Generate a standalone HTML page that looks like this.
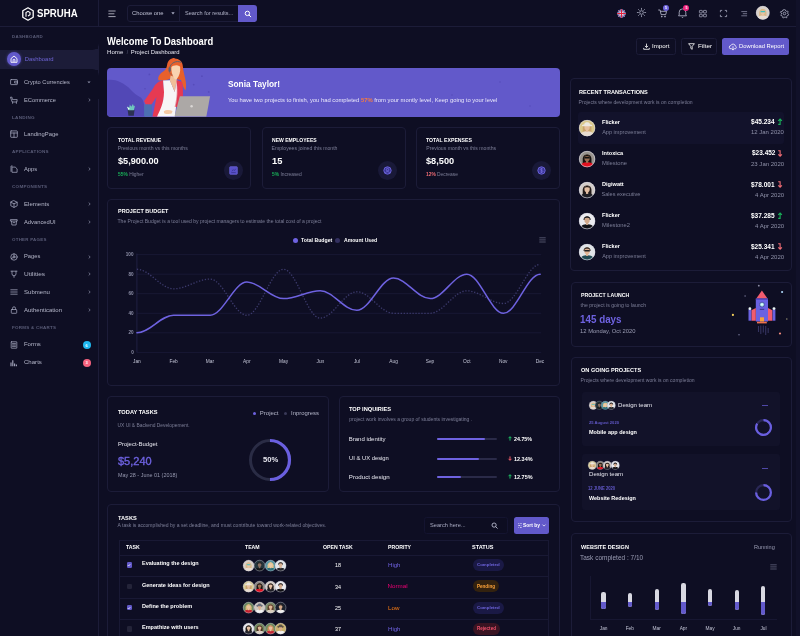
<!DOCTYPE html><html><head><meta charset="utf-8"><title>Spruha Dashboard</title><style>
*{margin:0;padding:0;box-sizing:border-box}
html,body{width:800px;height:636px;overflow:hidden;background:#0e0e23}
body{position:relative;font-family:"Liberation Sans",sans-serif;color:#f4f4f8}
#app{position:absolute;left:0;top:0;width:800px;height:636px;overflow:hidden;will-change:transform}
.a{position:absolute}
.t{position:absolute;white-space:nowrap;line-height:1}
svg{position:absolute;overflow:visible}


</style></head><body><div id="app">
<div class="a" style="left:0px;top:0px;width:99px;height:636px;background:#0e0e23;border-right:1px solid #1c1c38;"></div>
<div class="a" style="left:0px;top:49px;width:99px;height:21px;background:#1c1c38;"></div>
<div class="a" style="left:0px;top:26px;width:99px;height:24px;background:#0e0e23;border-radius:0 0 7px 0;"></div>
<div class="a" style="left:0px;top:68.5px;width:99px;height:30px;background:#0e0e23;border-radius:0 7px 0 0;"></div>
<div class="a" style="left:0px;top:26px;width:800px;height:1px;background:#1c1c38;"></div>
<div class="a" style="left:98px;top:0px;width:1px;height:27px;background:#1c1c38;"></div>
<svg style="left:21.5px;top:6.5px" width="12" height="14" viewBox="0 0 12 14" ><path d="M6 .8 11.2 3.8v6.4L6 13.2.8 10.2V3.8z" fill="none" stroke="#fff" stroke-width="1.3" stroke-linejoin="round"/><path d="M4 9.8V5.6l2-1.2 2 1.2v2.2L6 9" fill="none" stroke="#fff" stroke-width="1.1"/></svg>
<div class="a" style="left:6.5px;top:52.2px;width:14px;height:14px;background:#6259ca;border-radius:7px;box-shadow:0 0 3px rgba(98,89,202,.6);"></div>
<svg style="left:9.5px;top:55px" width="8" height="8" viewBox="0 0 8 8" ><path d="M1 3.6 4 1l3 2.6V7.3H1z" fill="none" stroke="#fff" stroke-width=".9" stroke-linejoin="round"/><path d="M3.1 7.2V4.6h1.8v2.6" fill="none" stroke="#fff" stroke-width=".8"/></svg>
<svg style="left:10px;top:78px" width="8" height="8" viewBox="0 0 8 8" ><rect x=".6" y="1.6" width="6.8" height="5" rx=".6" fill="none" stroke="#a6a8bf" stroke-width=".75" stroke-linejoin="round" stroke-linecap="round"/><rect x="5" y="3.2" width="2.4" height="1.8" fill="none" stroke="#a6a8bf" stroke-width=".75" stroke-linejoin="round" stroke-linecap="round"/></svg>
<svg style="left:87px;top:81.4px" width="4" height="3" viewBox="0 0 4 3" ><path d="M.4.4h3.2L2 2.2z" fill="#8d8fa8"/></svg>
<svg style="left:10px;top:95.6px" width="8" height="8" viewBox="0 0 8 8" ><path d="M.8 1.2h1.2l.4 2.4h4.8L6.8 6H2.6z" fill="none" stroke="#a6a8bf" stroke-width=".75" stroke-linejoin="round" stroke-linecap="round"/><path d="M2.6 6v1.4M6.4 6v1.4" fill="none" stroke="#a6a8bf" stroke-width=".75" stroke-linejoin="round" stroke-linecap="round"/></svg>
<svg style="left:87.6px;top:97.6px" width="3" height="4" viewBox="0 0 3 4" ><path d="M.7.6 2.2 2 .7 3.4" fill="none" stroke="#8d8fa8" stroke-width=".7"/></svg>
<svg style="left:10px;top:130.4px" width="8" height="8" viewBox="0 0 8 8" ><rect x=".7" y=".9" width="6.6" height="6.4" rx=".4" fill="none" stroke="#a6a8bf" stroke-width=".75" stroke-linejoin="round" stroke-linecap="round"/><path d="M.7 3h6.6M4 3v4.2" fill="none" stroke="#a6a8bf" stroke-width=".75" stroke-linejoin="round" stroke-linecap="round"/></svg>
<svg style="left:10px;top:165.3px" width="8" height="8" viewBox="0 0 8 8" ><path d="M2.4 2.1h2.8l1.9 1.8v3.4H2.4z" fill="none" stroke="#a6a8bf" stroke-width=".75" stroke-linejoin="round" stroke-linecap="round"/><path d="M2.2 1H1v5.4" fill="none" stroke="#a6a8bf" stroke-width=".75" stroke-linejoin="round" stroke-linecap="round"/></svg>
<svg style="left:87.6px;top:167.3px" width="3" height="4" viewBox="0 0 3 4" ><path d="M.7.6 2.2 2 .7 3.4" fill="none" stroke="#8d8fa8" stroke-width=".7"/></svg>
<svg style="left:10px;top:200px" width="8" height="8" viewBox="0 0 8 8" ><path d="M4 .7 7.2 2.2v3.6L4 7.4.8 5.8V2.2z" fill="none" stroke="#a6a8bf" stroke-width=".75" stroke-linejoin="round" stroke-linecap="round"/><path d="M.9 2.3 4 3.8l3.1-1.5M4 3.8v3.5" fill="none" stroke="#a6a8bf" stroke-width=".75" stroke-linejoin="round" stroke-linecap="round"/></svg>
<svg style="left:87.6px;top:202px" width="3" height="4" viewBox="0 0 3 4" ><path d="M.7.6 2.2 2 .7 3.4" fill="none" stroke="#8d8fa8" stroke-width=".7"/></svg>
<svg style="left:10px;top:217.7px" width="8" height="8" viewBox="0 0 8 8" ><path d="M.8 1.6h6.4v1.5H.8zM1.5 3.2l.4 3.8h4.2l.4-3.8" fill="none" stroke="#a6a8bf" stroke-width=".75" stroke-linejoin="round" stroke-linecap="round"/><path d="M3.2 4.6h1.6" fill="none" stroke="#a6a8bf" stroke-width=".75" stroke-linejoin="round" stroke-linecap="round"/></svg>
<svg style="left:87.6px;top:219.7px" width="3" height="4" viewBox="0 0 3 4" ><path d="M.7.6 2.2 2 .7 3.4" fill="none" stroke="#8d8fa8" stroke-width=".7"/></svg>
<svg style="left:10px;top:252.5px" width="8" height="8" viewBox="0 0 8 8" ><circle cx="4" cy="4" r="3.2" fill="none" stroke="#a6a8bf" stroke-width=".75" stroke-linejoin="round" stroke-linecap="round"/><circle cx="4" cy="4" r="1" fill="none" stroke="#a6a8bf" stroke-width=".75" stroke-linejoin="round" stroke-linecap="round"/><path d="M4 .8v2.2M1.3 5.6l1.8-1" fill="none" stroke="#a6a8bf" stroke-width=".75" stroke-linejoin="round" stroke-linecap="round"/></svg>
<svg style="left:87.6px;top:254.5px" width="3" height="4" viewBox="0 0 3 4" ><path d="M.7.6 2.2 2 .7 3.4" fill="none" stroke="#8d8fa8" stroke-width=".7"/></svg>
<svg style="left:10px;top:270.4px" width="8" height="8" viewBox="0 0 8 8" ><path d="M1 1.2h6M2 1.2v2.6a2 2 0 0 0 4 0V1.2M4 5.8v1.6" fill="none" stroke="#a6a8bf" stroke-width=".75" stroke-linejoin="round" stroke-linecap="round"/></svg>
<svg style="left:87.6px;top:272.4px" width="3" height="4" viewBox="0 0 3 4" ><path d="M.7.6 2.2 2 .7 3.4" fill="none" stroke="#8d8fa8" stroke-width=".7"/></svg>
<svg style="left:10px;top:288px" width="8" height="8" viewBox="0 0 8 8" ><path d="M.8 1.8h6.4M.8 4h6.4M.8 6.2h6.4" fill="none" stroke="#a6a8bf" stroke-width=".75" stroke-linejoin="round" stroke-linecap="round"/></svg>
<svg style="left:87.6px;top:290px" width="3" height="4" viewBox="0 0 3 4" ><path d="M.7.6 2.2 2 .7 3.4" fill="none" stroke="#8d8fa8" stroke-width=".7"/></svg>
<svg style="left:10px;top:305.7px" width="8" height="8" viewBox="0 0 8 8" ><rect x="1.3" y="3.5" width="5.4" height="3.8" rx=".6" fill="none" stroke="#a6a8bf" stroke-width=".75" stroke-linejoin="round" stroke-linecap="round"/><path d="M2.5 3.4V2.3a1.5 1.5 0 0 1 3 0v1.1" fill="none" stroke="#a6a8bf" stroke-width=".75" stroke-linejoin="round" stroke-linecap="round"/></svg>
<svg style="left:87.6px;top:307.7px" width="3" height="4" viewBox="0 0 3 4" ><path d="M.7.6 2.2 2 .7 3.4" fill="none" stroke="#8d8fa8" stroke-width=".7"/></svg>
<svg style="left:10px;top:340.5px" width="8" height="8" viewBox="0 0 8 8" ><rect x="1.2" y=".8" width="5.6" height="6.4" rx=".3" fill="none" stroke="#a6a8bf" stroke-width=".75" stroke-linejoin="round" stroke-linecap="round"/><path d="M2.5 2.6h3M2.5 4h3M2.5 5.4h3" fill="none" stroke="#a6a8bf" stroke-width=".75" stroke-linejoin="round" stroke-linecap="round"/></svg>
<div class="a" style="left:82.6px;top:340.9px;width:8.4px;height:8.4px;background:#1fb8ef;border-radius:4.2px;"></div>
<svg style="left:10px;top:358.5px" width="8" height="8" viewBox="0 0 8 8" ><path d="M1 7.2V3.4M2.8 7.2V1.2M4.6 7.2V4.6M6.4 7.2V5.6" fill="none" stroke="#a6a8bf" stroke-width="1.1"/></svg>
<div class="a" style="left:82.6px;top:358.6px;width:8.4px;height:8.4px;background:#f5627e;border-radius:4.2px;"></div>
<svg style="left:107.5px;top:9.5px" width="8" height="8" viewBox="0 0 8 8" ><path d="M.4 1h7.2M.4 3.8h6M.4 6.6h7.2" stroke="#d6d6e2" stroke-width=".75" fill="none"/></svg>
<div class="a" style="left:126.5px;top:4.7px;width:53px;height:17px;border:1px solid #1c1c38;border-radius:3px 0 0 3px;background:#0e0e23;"></div>
<div class="a" style="left:179px;top:4.7px;width:59.5px;height:17px;border:1px solid #1c1c38;border-left:none;"></div>
<div class="a" style="left:238px;top:4.5px;width:19.3px;height:17.3px;background:#6259ca;border-radius:0 3px 3px 0;"></div>
<svg style="left:170.5px;top:12.2px" width="4" height="3" viewBox="0 0 4 3" ><path d="M.3.3h3.4L2 2.4z" fill="#a9abc2"/></svg>
<svg style="left:244px;top:9.6px" width="8" height="8" viewBox="0 0 8 8" ><circle cx="3.4" cy="3.4" r="2.2" fill="none" stroke="#fff" stroke-width="1"/><path d="M5 5l1.8 1.8" stroke="#fff" stroke-width="1" stroke-linecap="round"/></svg>
<svg style="left:617px;top:8.6px" width="9" height="9" viewBox="0 0 9 9" ><defs><clipPath id="fc"><circle cx="4.5" cy="4.5" r="4.3"/></clipPath></defs><g clip-path="url(#fc)"><rect width="9" height="9" fill="#2c3c90"/><path d="M0 0 9 9M9 0 0 9" stroke="#e8d8e4" stroke-width="1.100"/><path d="M0 0 9 9M9 0 0 9" stroke="#d8243c" stroke-width=".35"/><path d="M4.5 0v9M0 4.5h9" stroke="#f0e4ec" stroke-width="1.900"/><path d="M4.5 0v9M0 4.5h9" stroke="#e3203c" stroke-width="1"/></g></svg>
<svg style="left:637.4px;top:8px" width="9" height="9" viewBox="0 0 9 9" ><circle cx="4.5" cy="4.5" r="1.800" fill="none" stroke="#b3b5c9" stroke-width=".8"/><path d="M4.5.3v1.100M4.5 7.600v1.100M.3 4.5h1.100M7.600 4.500h1.100M1.500 1.500l.8.8M6.700 6.700l.8.8M1.500 7.500l.8-.8M6.700 2.300l.8-.8" stroke="#b3b5c9" stroke-width=".75" stroke-linecap="round"/></svg>
<svg style="left:657.5px;top:8.5px" width="10" height="10" viewBox="0 0 10 10" ><path d="M.6 1h1.5l1 4.6h4.6l.9-3.3H2.6" fill="none" stroke="#b3b5c9" stroke-width=".85" stroke-linejoin="round" stroke-linecap="round"/><circle cx="3.8" cy="7.6" r=".8" fill="#b3b5c9"/><circle cx="7" cy="7.6" r=".8" fill="#b3b5c9"/></svg>
<div class="a" style="left:662.7px;top:4.6px;width:6.4px;height:6.4px;background:#6e64dc;border-radius:3.2px;"></div>
<svg style="left:678px;top:8.3px" width="9" height="10" viewBox="0 0 9 10" ><path d="M1.2 7V4.2a3.3 3.3 0 0 1 6.6 0V7l.7.8H.5z" fill="none" stroke="#b3b5c9" stroke-width=".85" stroke-linejoin="round"/><path d="M3.6 8.9a1 1 0 0 0 1.8 0" fill="none" stroke="#b3b5c9" stroke-width=".8"/></svg>
<div class="a" style="left:683px;top:4.6px;width:6.4px;height:6.4px;background:#f0247f;border-radius:3.2px;"></div>
<svg style="left:699.3px;top:9.8px" width="8" height="8" viewBox="0 0 8 8" ><rect x=".4" y=".4" width="2.900" height="2.500" rx=".4" fill="none" stroke="#b3b5c9" stroke-width=".7"/><rect x="4.500" y=".4" width="2.900" height="2.500" rx=".4" fill="none" stroke="#b3b5c9" stroke-width=".7"/><rect x=".4" y="4.300" width="2.900" height="2.500" rx=".4" fill="none" stroke="#b3b5c9" stroke-width=".7"/><rect x="4.500" y="4.300" width="2.900" height="2.500" rx=".4" fill="none" stroke="#b3b5c9" stroke-width=".7"/></svg>
<svg style="left:720px;top:10px" width="7" height="7" viewBox="0 0 7 7" ><path d="M.4 2.200V.4h1.800M4.800.4h1.800v1.800M6.600 4.800v1.800H4.800M2.200 6.600H.4V4.800" fill="none" stroke="#b3b5c9" stroke-width=".75"/></svg>
<svg style="left:741px;top:10.6px" width="7" height="6" viewBox="0 0 7 6" ><path d="M.3.600h5.800M1.800 2.700h4.300M.3 4.800h5.800" stroke="#9092aa" stroke-width=".75" fill="none"/></svg>
<svg style="left:780px;top:8.7px" width="9" height="9" viewBox="0 0 9 9" ><circle cx="4.5" cy="4.5" r="1.3" fill="none" stroke="#b3b5c9" stroke-width=".8"/><path d="M4.5.6l.9.3.3 1 .9.5 1-.3.6.8-.5.9.1 1 .8.6-.3.9-1 .2-.5.9.2 1-.9.4-.8-.7-1 .1-.7.8-.9-.4.1-1-.6-.8-1-.1-.4-.9.8-.7v-1L.4 3.3l.5-.9 1 .2.8-.6.1-1z" fill="none" stroke="#b3b5c9" stroke-width=".8" stroke-linejoin="round"/></svg>
<div class="a" style="left:635.5px;top:38.2px;width:40.2px;height:16.8px;background:#0e0e23;border:1px solid #1c1c38;border-radius:2.5px;"></div>
<svg style="left:643px;top:43px" width="7" height="7" viewBox="0 0 7 7" ><path d="M3.5.6v3.8M1.9 2.9l1.6 1.6 1.6-1.6M.7 4.9v1.4h5.6V4.9" fill="none" stroke="#fff" stroke-width=".8" stroke-linejoin="round"/></svg>
<div class="a" style="left:680.8px;top:38.2px;width:36.2px;height:16.8px;background:#0e0e23;border:1px solid #1c1c38;border-radius:2.5px;"></div>
<svg style="left:687.5px;top:43.2px" width="7" height="7" viewBox="0 0 7 7" ><path d="M.6.7h5.8L4.2 3.4v2.9L2.8 5.4v-2z" fill="none" stroke="#fff" stroke-width=".8" stroke-linejoin="round"/></svg>
<div class="a" style="left:722px;top:38.2px;width:67.3px;height:16.8px;background:#6259ca;border-radius:2.5px;"></div>
<svg style="left:728.5px;top:42.5px" width="8" height="8" viewBox="0 0 8 8" ><path d="M2.2 5.8H2a1.6 1.6 0 0 1-.2-3.2 2.4 2.4 0 0 1 4.6.5A1.4 1.4 0 0 1 6.2 5.8H5.9" fill="none" stroke="#fff" stroke-width=".8" stroke-linecap="round"/><path d="M4 3.6v3.2M2.9 5.8 4 6.9l1.1-1.1" fill="none" stroke="#fff" stroke-width=".8" stroke-linecap="round" stroke-linejoin="round"/></svg>
<div class="a" style="left:107px;top:68.4px;width:453px;height:48.3px;background:#6259ca;border-radius:4px;"></div>
<svg style="left:0;top:0" width="800" height="636" viewBox="0 0 800 636">
<defs><clipPath id="bnr"><path d="M107 50H560V112.700a4 4 0 0 1-4 4H111a4 4 0 0 1-4-4z"/></clipPath></defs>
<g clip-path="url(#bnr)">
<path d="M107 80c5-.5 9 0 13 2s8 4.500 11 8 6 5.500 9 7 4 6 4.500 10l.5 9.700H107z" fill="#5248b6"/>
<g fill="#564cba"><circle cx="149.400" cy="74.400" r=".9"/><circle cx="201.900" cy="76.200" r=".9"/><circle cx="193.700" cy="84.600" r=".9"/><circle cx="208.700" cy="91.900" r=".9"/><circle cx="145" cy="88.700" r=".8"/><circle cx="500" cy="82" r=".8"/><circle cx="452" cy="95" r=".8"/><circle cx="530" cy="106" r=".8"/></g>
<!-- plant -->
<path d="M127.700 110h6.800l-.7 5.700h-5.400z" fill="#2c3152"/>
<path d="M128.500 110.200l-1.600-3.800 2.400 1 .5-3 1.500 2.300 1.600-2.700 1 2.400 1.200-.8-1.300 4.600z" fill="#6fc7be"/>
<path d="M128.700 110l-1.700-3.300 2.700 1.800z" fill="#eef6f4"/>
<!-- hair back -->
<path d="M174.500 58.600c4.500 0 8 2.900 8.300 7.400.2 5 2.200 10 3 16 .5 4 .2 7-.4 8.500-1.900-2.500-3.400-6.500-4.400-10.500l-10-2c-2 1.500-5 2.500-8 2.600l-4.600-.3c-.8-3.300 1.100-6.300 4.100-8.300 2.800-1.800 4-3.500 4.500-6.500.8-5.500 3.800-7.400 7.700-7.400z" fill="#e8602c"/>
<!-- jacket left + arm -->
<path d="M163.200 80.300c-5 1-7.800 3.600-9.800 7.600l-9.400 13.300 1.800 3 5.500.5 5.200-7.800-4 19.800h6c2.800-6.500 5.500-13 5.700-24.700z" fill="#e63a52"/>
<!-- pencils & blue box -->
<path d="M146.200 105l-.6-4M148.300 105v-4.500M150.300 105l.8-3.600" stroke="#e33e57" stroke-width="1"/>
<rect x="144.100" y="104.400" width="7.800" height="12.400" fill="#4c6fb1"/>
<!-- shirt -->
<path d="M163.100 80.500l6.800-.3 4.900 11.800 1.400-11.900 1 .1c1.600 8 1.300 17-1.200 26.800l-1 9.700h-18c3-6.500 6.800-13 7-24.700z" fill="#f7f5f6"/>
<!-- jacket right -->
<path d="M176.300 80l5.900 2c1 6 1 14 0 25h-6.700c2-9 2.700-17 .8-27z" fill="#e63a52"/>
<path d="M176.300 80c1.600 8 1.300 17-1.200 26.800" fill="none" stroke="#cf2f48" stroke-width=".5"/>
<!-- neck/chest -->
<path d="M170.600 75.500l6.300 2.500-.6 4-1.500 10-5-11.600z" fill="#f0bf99"/>
<!-- face -->
<path d="M171.500 66.200c1.400-2.600 7.500-2.400 8.600.8.500 4-.5 9-3.500 12.200-1 .5-2 0-2.600-1.100-2-3-3.100-7.900-2.500-11.900z" fill="#f9d3b0"/>
<path d="M170.600 67.500c0-5.500 5.500-7.500 11-4.300.6 1.500.5 3.300.2 4.500-2.700-3-7.700-3.200-11.200-.2z" fill="#e8602c"/>
<!-- headset -->
<path d="M169.700 68c.8-5 6.500-8 11.500-5.600" fill="none" stroke="#5b6270" stroke-width="1"/>
<rect x="168.500" y="67.300" width="2.300" height="4.600" rx="1.100" fill="#5b6270"/>
<path d="M169.500 71.800c.3 2 1.500 3 3 3.300" fill="none" stroke="#5b6270" stroke-width=".5"/>
<!-- hand -->
<path d="M163.800 111.200c2-1.500 5.500-1.800 8.700-.2l-.8 2.600c-2.500.8-5.500.6-7.600-.4z" fill="#f4c8a4"/>
<!-- laptop -->
<path d="M179.800 96.300h30.300l-3.800 20.500h-31.900z" fill="#aca8a6"/>
<circle cx="191.600" cy="106.300" r="1.200" fill="#dad7d5"/>
</g></svg>
<div class="a" style="left:107.4px;top:127px;width:144px;height:62px;background:#0e0e23;border:1px solid #1c1c38;border-radius:4px;"></div>
<div class="a" style="left:223.6px;top:161.1px;width:19px;height:19px;background:#191938;border-radius:9.5px;"></div>
<svg style="left:228.6px;top:166.1px" width="9" height="9" viewBox="-1 -1 9 9" ><rect x="-.3" y="-.3" width="7.600" height="7.600" rx=".7" fill="#5850c8" stroke="#6e66e0" stroke-width=".7"/><path d="M1.300 5.600h4.400M2 4.200 3.300 2.600l1 1 1.400-1.800" fill="none" stroke="#39338f" stroke-width=".8"/></svg>
<div class="a" style="left:261.6px;top:127px;width:144px;height:62px;background:#0e0e23;border:1px solid #1c1c38;border-radius:4px;"></div>
<div class="a" style="left:377.8px;top:161.1px;width:19px;height:19px;background:#191938;border-radius:9.5px;"></div>
<svg style="left:382.8px;top:166.1px" width="9" height="9" viewBox="-1 -1 9 9" ><circle cx="3.5" cy="3.5" r="3.700" fill="#3a3496" stroke="#6e66e0" stroke-width=".9"/><circle cx="3.5" cy="2.600" r="1.200" fill="none" stroke="#7d75e6" stroke-width=".7"/><path d="M1.300 5.800c.6-1.600 3.800-1.600 4.400 0" fill="none" stroke="#7d75e6" stroke-width=".7"/></svg>
<div class="a" style="left:416px;top:127px;width:144px;height:62px;background:#0e0e23;border:1px solid #1c1c38;border-radius:4px;"></div>
<div class="a" style="left:532.2px;top:161.1px;width:19px;height:19px;background:#191938;border-radius:9.5px;"></div>
<svg style="left:537.2px;top:166.1px" width="9" height="9" viewBox="-1 -1 9 9" ><circle cx="3.5" cy="3.500" r="3.700" fill="#3a3496" stroke="#6e66e0" stroke-width=".9"/><path d="M2.200 4.800c.9.900 2.700.6 2.700-.4 0-1.300-2.700-.6-2.700-1.900 0-.9 1.700-1.200 2.600-.4M3.500 1v5" fill="none" stroke="#7d75e6" stroke-width=".6"/></svg>
<div class="a" style="left:107.4px;top:199px;width:452.8px;height:186.5px;background:#0e0e23;border:1px solid #1c1c38;border-radius:4px;"></div>
<div class="a" style="left:292.6px;top:237.7px;width:5px;height:5px;background:#6e62e0;border-radius:2.5px;"></div>
<div class="a" style="left:335px;top:237.7px;width:5px;height:5px;background:#33305f;border-radius:2.5px;"></div>
<svg style="left:538.5px;top:237.4px" width="7" height="6" viewBox="0 0 7 6" ><path d="M.3.8h6.400M.3 2.900h6.400M.3 5h6.400" stroke="#74768f" stroke-width=".65"/></svg>
<svg style="left:0;top:0" width="800" height="636" viewBox="0 0 800 636"><path d="M136.9 352.4H541.2" stroke="#1b1b38" stroke-width=".8"/><path d="M136.9 332.8H541.2" stroke="#1b1b38" stroke-width=".8"/><path d="M136.9 313.3H541.2" stroke="#1b1b38" stroke-width=".8"/><path d="M136.9 293.7H541.2" stroke="#1b1b38" stroke-width=".8"/><path d="M136.9 274.2H541.2" stroke="#1b1b38" stroke-width=".8"/><path d="M136.9 254.6H541.2" stroke="#1b1b38" stroke-width=".8"/><path d="M136.9 253.6V352.4" stroke="#24244a" stroke-width=".8"/><path d="M136.90 269.27C149.73 269.27 160.73 288.83 173.56 288.83C186.39 288.83 197.39 279.05 210.22 279.05C223.05 279.05 234.05 315.24 246.88 315.24C259.71 315.24 270.71 269.27 283.54 269.27C296.37 269.27 307.37 318.17 320.20 318.17C333.03 318.17 344.03 291.76 356.86 291.76C369.69 291.76 380.69 313.28 393.52 313.28C406.35 313.28 417.35 313.28 430.18 313.28C443.01 313.28 454.01 290.79 466.84 290.79C479.67 290.79 490.67 303.50 503.50 303.50C516.33 303.50 527.33 264.38 540.16 264.38" fill="none" stroke="#3c3a6c" stroke-width="1.300" stroke-dasharray="1.300 1.700" stroke-linecap="butt"/><path d="M136.90 332.84C149.73 332.84 160.73 315.24 173.56 315.24C186.39 315.24 197.39 315.24 210.22 315.24C223.05 315.24 234.05 281.98 246.88 281.98C259.71 281.98 270.71 298.61 283.54 298.61C296.37 298.61 307.37 290.79 320.20 290.79C333.03 290.79 344.03 310.35 356.86 310.35C369.69 310.35 380.69 278.07 393.52 278.07C406.35 278.07 417.35 298.61 430.18 298.61C443.01 298.61 454.01 274.16 466.84 274.16C479.67 274.16 490.67 313.28 503.50 313.28C516.33 313.28 527.33 274.16 540.16 274.16" fill="none" stroke="#6e62e0" stroke-width="1.500" stroke-linecap="round"/></svg>
<div class="a" style="left:107.4px;top:396px;width:221.2px;height:96px;background:#0e0e23;border:1px solid #1c1c38;border-radius:4px;"></div>
<div class="a" style="left:253px;top:412px;width:3px;height:3px;background:#6e62e0;border-radius:1.5px;"></div>
<div class="a" style="left:284.2px;top:412px;width:3px;height:3px;background:#3a3a58;border-radius:1.5px;"></div>
<svg style="left:248.4px;top:437.8px" width="44" height="44" viewBox="0 0 44 44"><circle cx="22" cy="22" r="19.500" fill="none" stroke="#2a2c45" stroke-width="3"/><path d="M22 2.500a19.500 19.500 0 0 1 0 39" fill="none" stroke="#6a5fe0" stroke-width="3.200"/></svg>
<div class="a" style="left:338.8px;top:396px;width:221.4px;height:96px;background:#0e0e23;border:1px solid #1c1c38;border-radius:4px;"></div>
<div class="a" style="left:437px;top:438.1px;width:60px;height:2px;background:#2a2a48;border-radius:1px;"></div>
<div class="a" style="left:437px;top:438.1px;width:48px;height:2px;background:#6e62e0;border-radius:1px;"></div>
<svg style="left:507.8px;top:435.7px" width="4" height="5" viewBox="0 0 4 5" ><path d="M2 4.600V.8M.5 2.200 2 .7l1.500 1.500" fill="none" stroke="#1ec266" stroke-width="1"/></svg>
<div class="a" style="left:437px;top:457.5px;width:60px;height:2px;background:#2a2a48;border-radius:1px;"></div>
<div class="a" style="left:437px;top:457.5px;width:42px;height:2px;background:#6e62e0;border-radius:1px;"></div>
<svg style="left:507.8px;top:455.5px" width="4" height="5" viewBox="0 0 4 5" ><path d="M2 .4v3.800M.5 2.800 2 4.300l1.500-1.500" fill="none" stroke="#f5606c" stroke-width="1"/></svg>
<div class="a" style="left:437px;top:476.3px;width:60px;height:2px;background:#2a2a48;border-radius:1px;"></div>
<div class="a" style="left:437px;top:476.3px;width:24px;height:2px;background:#6e62e0;border-radius:1px;"></div>
<svg style="left:507.8px;top:473.90000000000003px" width="4" height="5" viewBox="0 0 4 5" ><path d="M2 4.600V.8M.5 2.200 2 .7l1.500 1.500" fill="none" stroke="#1ec266" stroke-width="1"/></svg>
<div class="a" style="left:107.4px;top:503.5px;width:452.8px;height:140px;background:#0e0e23;border:1px solid #1c1c38;border-radius:4px;"></div>
<div class="a" style="left:423.5px;top:516.5px;width:84px;height:17px;background:#0d0d21;border:1px solid #141430;border-radius:2.5px;"></div>
<svg style="left:490.5px;top:521.5px" width="7" height="7" viewBox="0 0 7 7" ><circle cx="3.100" cy="3.100" r="2.100" fill="none" stroke="#b9bbcf" stroke-width=".9"/><path d="M4.700 4.700l1.600 1.600" stroke="#b9bbcf" stroke-width=".9" stroke-linecap="round"/></svg>
<div class="a" style="left:513.6px;top:516.5px;width:35.6px;height:17px;background:#6259ca;border-radius:2.5px;"></div>
<svg style="left:517.5px;top:522.8px" width="4" height="5" viewBox="0 0 4 5" ><path d="M.3.600h1M2.300.600h1.400M.3 2.500h2M3.300 2.500h.4M.3 4.400h.600M1.900 4.400h1.800" stroke="#fff" stroke-width=".7"/></svg>
<svg style="left:541.5px;top:523.7px" width="4" height="3" viewBox="0 0 4 3" ><path d="M.5.600 2 2.100 3.500.600" fill="none" stroke="#fff" stroke-width=".7"/></svg>
<div class="a" style="left:118.5px;top:540px;width:430.7px;height:100px;border:1px solid #191934;"></div>
<div class="a" style="left:118.5px;top:555px;width:430.7px;height:1px;background:#191934;"></div>
<div class="a" style="left:118.5px;top:576.3px;width:430.7px;height:1px;background:#191934;"></div>
<div class="a" style="left:118.5px;top:597.6px;width:430.7px;height:1px;background:#191934;"></div>
<div class="a" style="left:118.5px;top:618.6px;width:430.7px;height:1px;background:#191934;"></div>
<svg style="left:755.90px;top:6.30px" width="13.6" height="13.6" viewBox="0 0 20 20"><defs><clipPath id="c1"><circle cx="10" cy="10" r="10"/></clipPath></defs><g clip-path="url(#c1)"><rect width="20" height="20" fill="#d9d0c8"/><path d="M4.6 9.500C4.600 2.500 15.400 2.500 15.400 9.500V18H4.600z" fill="#d8b98a"/><path d="M1.500 21c0-6 4-7 8.500-7s8.500 1 8.500 7z" fill="#e8dcd2"/><rect x="8.600" y="11.500" width="2.800" height="3.200" fill="#e9c3a4"/><ellipse cx="10" cy="8.600" rx="3.300" ry="4" fill="#e9c3a4"/><path d="M6.500 7.800C6.500 3.500 13.500 3.500 13.500 7.800 12 6 8 6 6.500 7.800z" fill="#d8b98a"/><rect x="6.600" y="7.400" width="6.800" height="1.900" rx=".8" fill="#3fc1c0"/></g><circle cx="10" cy="10" r="9.600" fill="none" stroke="#d9dae6" stroke-width=".9" opacity=".85"/></svg>
<div class="a" style="left:126.5px;top:562.3px;width:5.6px;height:5.6px;background:#6259ca;border-radius:1.2px;"></div>
<svg style="left:127.3px;top:563.1px" width="4" height="4" viewBox="0 0 4 4" ><path d="M.8 2.100 1.700 3 3.300 1.100" fill="none" stroke="#fff" stroke-width=".7"/></svg>
<svg style="left:243.20px;top:559.60px" width="11.2" height="11.2" viewBox="0 0 20 20"><defs><clipPath id="c2"><circle cx="10" cy="10" r="10"/></clipPath></defs><g clip-path="url(#c2)"><rect width="20" height="20" fill="#d9d0c8"/><path d="M4.6 9.500C4.600 2.500 15.400 2.500 15.400 9.500V18H4.600z" fill="#d8b98a"/><path d="M1.500 21c0-6 4-7 8.500-7s8.500 1 8.500 7z" fill="#e8dcd2"/><rect x="8.600" y="11.500" width="2.800" height="3.200" fill="#e9c3a4"/><ellipse cx="10" cy="8.600" rx="3.300" ry="4" fill="#e9c3a4"/><path d="M6.500 7.800C6.500 3.500 13.500 3.500 13.500 7.800 12 6 8 6 6.500 7.800z" fill="#d8b98a"/><rect x="6.600" y="7.400" width="6.800" height="1.900" rx=".8" fill="#3fc1c0"/></g><circle cx="10" cy="10" r="9.600" fill="none" stroke="#c4c5d4" stroke-width=".9" opacity=".85"/></svg>
<svg style="left:253.90px;top:559.60px" width="11.2" height="11.2" viewBox="0 0 20 20"><defs><clipPath id="c3"><circle cx="10" cy="10" r="10"/></clipPath></defs><g clip-path="url(#c3)"><rect width="20" height="20" fill="#24343b"/><path d="M5.600 8.500C5.600 2.600 14.400 2.600 14.400 8.500z" fill="#15181c"/><path d="M1.500 21c0-6 4-7 8.500-7s8.500 1 8.500 7z" fill="#121518"/><rect x="8.600" y="11.500" width="2.800" height="3.200" fill="#8a6f60"/><ellipse cx="10" cy="8.600" rx="3.300" ry="4" fill="#8a6f60"/><path d="M6.500 7.200C6.500 3.400 13.500 3.400 13.500 7.200 12 5.600 8 5.600 6.500 7.200z" fill="#15181c"/></g><circle cx="10" cy="10" r="9.600" fill="none" stroke="#c4c5d4" stroke-width=".9" opacity=".85"/></svg>
<svg style="left:264.60px;top:559.60px" width="11.2" height="11.2" viewBox="0 0 20 20"><defs><clipPath id="c4"><circle cx="10" cy="10" r="10"/></clipPath></defs><g clip-path="url(#c4)"><rect width="20" height="20" fill="#5b97a3"/><path d="M4.6 9.500C4.600 2.500 15.400 2.500 15.400 9.500V18H4.600z" fill="#e2c58e"/><path d="M1.500 21c0-6 4-7 8.500-7s8.500 1 8.500 7z" fill="#2a6f7a"/><rect x="8.600" y="11.500" width="2.800" height="3.200" fill="#ecc9a8"/><ellipse cx="10" cy="8.600" rx="3.300" ry="4" fill="#ecc9a8"/><path d="M6.500 7.800C6.500 3.500 13.500 3.500 13.500 7.800 12 6 8 6 6.500 7.800z" fill="#e2c58e"/></g><circle cx="10" cy="10" r="9.600" fill="none" stroke="#c4c5d4" stroke-width=".9" opacity=".85"/></svg>
<svg style="left:275.30px;top:559.60px" width="11.2" height="11.2" viewBox="0 0 20 20"><defs><clipPath id="c5"><circle cx="10" cy="10" r="10"/></clipPath></defs><g clip-path="url(#c5)"><rect width="20" height="20" fill="#e1e5ea"/><path d="M5.600 8.500C5.600 2.600 14.400 2.600 14.400 8.500z" fill="#1d1d22"/><path d="M1.500 21c0-6 4-7 8.500-7s8.500 1 8.500 7z" fill="#23262c"/><rect x="8.600" y="11.500" width="2.800" height="3.200" fill="#d9b294"/><ellipse cx="10" cy="8.600" rx="3.300" ry="4" fill="#d9b294"/><path d="M6.500 7.200C6.500 3.400 13.500 3.400 13.500 7.200 12 5.600 8 5.600 6.500 7.200z" fill="#1d1d22"/></g><circle cx="10" cy="10" r="9.600" fill="none" stroke="#c4c5d4" stroke-width=".9" opacity=".85"/></svg>
<div class="a" style="left:472.8px;top:559px;width:30.8px;height:12px;background:#1a1945;border-radius:6px;"></div>
<div class="a" style="left:126.5px;top:583.6px;width:5.6px;height:5.6px;background:#242439;border-radius:1.2px;"></div>
<svg style="left:243.20px;top:580.90px" width="11.2" height="11.2" viewBox="0 0 20 20"><defs><clipPath id="c6"><circle cx="10" cy="10" r="10"/></clipPath></defs><g clip-path="url(#c6)"><rect width="20" height="20" fill="#d9cd9a"/><path d="M4.6 9.500C4.600 2.500 15.400 2.500 15.400 9.500V18H4.600z" fill="#c9a46c"/><path d="M1.500 21c0-6 4-7 8.500-7s8.500 1 8.500 7z" fill="#e8dccf"/><rect x="8.600" y="11.500" width="2.800" height="3.200" fill="#e6bf9e"/><ellipse cx="10" cy="8.600" rx="3.300" ry="4" fill="#e6bf9e"/><path d="M6.500 7.800C6.500 3.500 13.500 3.500 13.500 7.800 12 6 8 6 6.500 7.800z" fill="#c9a46c"/><path d="M3.500 7c0-1 2-1.600 3-1.800C7 2 13 2 13.500 5.200c1 .2 3 .8 3 1.800s-13 1-13 0z" fill="#ece7df"/></g><circle cx="10" cy="10" r="9.600" fill="none" stroke="#c4c5d4" stroke-width=".9" opacity=".85"/></svg>
<svg style="left:253.90px;top:580.90px" width="11.2" height="11.2" viewBox="0 0 20 20"><defs><clipPath id="c7"><circle cx="10" cy="10" r="10"/></clipPath></defs><g clip-path="url(#c7)"><rect width="20" height="20" fill="#8f8984"/><path d="M4.6 9.500C4.600 2.500 15.400 2.500 15.400 9.500V18H4.600z" fill="#17120f"/><path d="M1.500 21c0-6 4-7 8.500-7s8.500 1 8.500 7z" fill="#e3101f"/><rect x="8.600" y="11.500" width="2.800" height="3.200" fill="#9b6f55"/><ellipse cx="10" cy="8.600" rx="3.300" ry="4" fill="#9b6f55"/><path d="M6.500 7.800C6.500 3.500 13.500 3.500 13.500 7.800 12 6 8 6 6.500 7.800z" fill="#17120f"/></g><circle cx="10" cy="10" r="9.600" fill="none" stroke="#c4c5d4" stroke-width=".9" opacity=".85"/></svg>
<svg style="left:264.60px;top:580.90px" width="11.2" height="11.2" viewBox="0 0 20 20"><defs><clipPath id="c8"><circle cx="10" cy="10" r="10"/></clipPath></defs><g clip-path="url(#c8)"><rect width="20" height="20" fill="#d3ccc8"/><path d="M4.6 9.500C4.600 2.500 15.400 2.500 15.400 9.500V18H4.600z" fill="#221a18"/><path d="M1.500 21c0-6 4-7 8.500-7s8.500 1 8.500 7z" fill="#1d1d24"/><rect x="8.600" y="11.500" width="2.800" height="3.200" fill="#e3bea3"/><ellipse cx="10" cy="8.600" rx="3.300" ry="4" fill="#e3bea3"/><path d="M6.500 7.800C6.500 3.500 13.500 3.500 13.500 7.800 12 6 8 6 6.500 7.800z" fill="#221a18"/></g><circle cx="10" cy="10" r="9.600" fill="none" stroke="#c4c5d4" stroke-width=".9" opacity=".85"/></svg>
<svg style="left:275.30px;top:580.90px" width="11.2" height="11.2" viewBox="0 0 20 20"><defs><clipPath id="c9"><circle cx="10" cy="10" r="10"/></clipPath></defs><g clip-path="url(#c9)"><rect width="20" height="20" fill="#e9e9ee"/><path d="M5.600 8.500C5.600 2.600 14.400 2.600 14.400 8.500z" fill="#15151a"/><path d="M1.500 21c0-6 4-7 8.500-7s8.500 1 8.500 7z" fill="#101014"/><rect x="8.600" y="11.500" width="2.800" height="3.200" fill="#d2aa8c"/><ellipse cx="10" cy="8.600" rx="3.300" ry="4" fill="#d2aa8c"/><path d="M6.500 7.200C6.500 3.400 13.500 3.400 13.500 7.200 12 5.600 8 5.600 6.500 7.200z" fill="#15151a"/></g><circle cx="10" cy="10" r="9.600" fill="none" stroke="#c4c5d4" stroke-width=".9" opacity=".85"/></svg>
<div class="a" style="left:472.8px;top:580.3px;width:26.5px;height:12px;background:#33220f;border-radius:6px;"></div>
<div class="a" style="left:126.5px;top:604.9px;width:5.6px;height:5.6px;background:#6259ca;border-radius:1.2px;"></div>
<svg style="left:127.3px;top:605.7px" width="4" height="4" viewBox="0 0 4 4" ><path d="M.8 2.100 1.700 3 3.300 1.100" fill="none" stroke="#fff" stroke-width=".7"/></svg>
<svg style="left:243.20px;top:602.20px" width="11.2" height="11.2" viewBox="0 0 20 20"><defs><clipPath id="c10"><circle cx="10" cy="10" r="10"/></clipPath></defs><g clip-path="url(#c10)"><rect width="20" height="20" fill="#6c8761"/><path d="M4.6 9.500C4.600 2.500 15.400 2.500 15.400 9.500V18H4.600z" fill="#d9b777"/><path d="M1.500 21c0-6 4-7 8.500-7s8.500 1 8.500 7z" fill="#c5222f"/><rect x="8.600" y="11.500" width="2.800" height="3.200" fill="#e8c2a0"/><ellipse cx="10" cy="8.600" rx="3.300" ry="4" fill="#e8c2a0"/><path d="M6.500 7.800C6.500 3.500 13.500 3.500 13.500 7.800 12 6 8 6 6.500 7.800z" fill="#d9b777"/></g><circle cx="10" cy="10" r="9.600" fill="none" stroke="#c4c5d4" stroke-width=".9" opacity=".85"/></svg>
<svg style="left:253.90px;top:602.20px" width="11.2" height="11.2" viewBox="0 0 20 20"><defs><clipPath id="c11"><circle cx="10" cy="10" r="10"/></clipPath></defs><g clip-path="url(#c11)"><rect width="20" height="20" fill="#cfc8bf"/><path d="M5.600 8.500C5.600 2.600 14.400 2.600 14.400 8.500z" fill="#4a4a55"/><path d="M1.500 21c0-6 4-7 8.500-7s8.500 1 8.500 7z" fill="#f2f2f2"/><rect x="8.600" y="11.500" width="2.800" height="3.200" fill="#dcb090"/><ellipse cx="10" cy="8.600" rx="3.300" ry="4" fill="#dcb090"/><path d="M6.500 7.200C6.500 3.400 13.500 3.400 13.500 7.200 12 5.600 8 5.600 6.500 7.200z" fill="#4a4a55"/><path d="M3.500 7c0-1 2-1.600 3-1.800C7 2 13 2 13.500 5.200c1 .2 3 .8 3 1.800s-13 1-13 0z" fill="#6a6f7c"/></g><circle cx="10" cy="10" r="9.600" fill="none" stroke="#c4c5d4" stroke-width=".9" opacity=".85"/></svg>
<svg style="left:264.60px;top:602.20px" width="11.2" height="11.2" viewBox="0 0 20 20"><defs><clipPath id="c12"><circle cx="10" cy="10" r="10"/></clipPath></defs><g clip-path="url(#c12)"><rect width="20" height="20" fill="#7c8b69"/><path d="M4.6 9.500C4.600 2.500 15.400 2.500 15.400 9.500V18H4.600z" fill="#5b3c28"/><path d="M1.500 21c0-6 4-7 8.500-7s8.500 1 8.500 7z" fill="#d9cfc0"/><rect x="8.600" y="11.500" width="2.800" height="3.200" fill="#e0b695"/><ellipse cx="10" cy="8.600" rx="3.300" ry="4" fill="#e0b695"/><path d="M6.500 7.800C6.500 3.500 13.500 3.500 13.500 7.800 12 6 8 6 6.500 7.800z" fill="#5b3c28"/></g><circle cx="10" cy="10" r="9.600" fill="none" stroke="#c4c5d4" stroke-width=".9" opacity=".85"/></svg>
<svg style="left:275.30px;top:602.20px" width="11.2" height="11.2" viewBox="0 0 20 20"><defs><clipPath id="c13"><circle cx="10" cy="10" r="10"/></clipPath></defs><g clip-path="url(#c13)"><rect width="20" height="20" fill="#1d222d"/><path d="M5.600 8.500C5.600 2.600 14.400 2.600 14.400 8.500z" fill="#15151a"/><path d="M1.500 21c0-6 4-7 8.500-7s8.500 1 8.500 7z" fill="#f0f0f0"/><rect x="8.600" y="11.500" width="2.800" height="3.200" fill="#d4a98a"/><ellipse cx="10" cy="8.600" rx="3.300" ry="4" fill="#d4a98a"/><path d="M6.500 7.200C6.500 3.400 13.500 3.400 13.500 7.200 12 5.600 8 5.600 6.500 7.200z" fill="#15151a"/></g><circle cx="10" cy="10" r="9.600" fill="none" stroke="#c4c5d4" stroke-width=".9" opacity=".85"/></svg>
<div class="a" style="left:472.8px;top:601.6px;width:30.8px;height:12px;background:#1a1945;border-radius:6px;"></div>
<div class="a" style="left:126.5px;top:626px;width:5.6px;height:5.6px;background:#242439;border-radius:1.2px;"></div>
<svg style="left:243.20px;top:623.30px" width="11.2" height="11.2" viewBox="0 0 20 20"><defs><clipPath id="c14"><circle cx="10" cy="10" r="10"/></clipPath></defs><g clip-path="url(#c14)"><rect width="20" height="20" fill="#e6e6ea"/><path d="M4.6 9.500C4.600 2.500 15.400 2.500 15.400 9.500V18H4.600z" fill="#1b1614"/><path d="M1.500 21c0-6 4-7 8.500-7s8.500 1 8.500 7z" fill="#22222a"/><rect x="8.600" y="11.500" width="2.800" height="3.200" fill="#e2bda1"/><ellipse cx="10" cy="8.600" rx="3.300" ry="4" fill="#e2bda1"/><path d="M6.500 7.800C6.500 3.500 13.500 3.500 13.500 7.800 12 6 8 6 6.500 7.800z" fill="#1b1614"/></g><circle cx="10" cy="10" r="9.600" fill="none" stroke="#c4c5d4" stroke-width=".9" opacity=".85"/></svg>
<svg style="left:253.90px;top:623.30px" width="11.2" height="11.2" viewBox="0 0 20 20"><defs><clipPath id="c15"><circle cx="10" cy="10" r="10"/></clipPath></defs><g clip-path="url(#c15)"><rect width="20" height="20" fill="#73895f"/><path d="M4.6 9.500C4.600 2.500 15.400 2.500 15.400 9.500V18H4.600z" fill="#4b3022"/><path d="M1.500 21c0-6 4-7 8.500-7s8.500 1 8.500 7z" fill="#d8d0c4"/><rect x="8.600" y="11.500" width="2.800" height="3.200" fill="#e0b897"/><ellipse cx="10" cy="8.600" rx="3.300" ry="4" fill="#e0b897"/><path d="M6.500 7.800C6.500 3.500 13.500 3.500 13.500 7.800 12 6 8 6 6.500 7.800z" fill="#4b3022"/></g><circle cx="10" cy="10" r="9.600" fill="none" stroke="#c4c5d4" stroke-width=".9" opacity=".85"/></svg>
<svg style="left:264.60px;top:623.30px" width="11.2" height="11.2" viewBox="0 0 20 20"><defs><clipPath id="c16"><circle cx="10" cy="10" r="10"/></clipPath></defs><g clip-path="url(#c16)"><rect width="20" height="20" fill="#6f8a5d"/><path d="M4.6 9.500C4.600 2.500 15.400 2.500 15.400 9.500V18H4.600z" fill="#c98a5a"/><path d="M1.500 21c0-6 4-7 8.500-7s8.500 1 8.500 7z" fill="#c32634"/><rect x="8.600" y="11.500" width="2.800" height="3.200" fill="#e8c0a0"/><ellipse cx="10" cy="8.600" rx="3.300" ry="4" fill="#e8c0a0"/><path d="M6.500 7.800C6.500 3.500 13.500 3.500 13.500 7.800 12 6 8 6 6.500 7.800z" fill="#c98a5a"/></g><circle cx="10" cy="10" r="9.600" fill="none" stroke="#c4c5d4" stroke-width=".9" opacity=".85"/></svg>
<svg style="left:275.30px;top:623.30px" width="11.2" height="11.2" viewBox="0 0 20 20"><defs><clipPath id="c17"><circle cx="10" cy="10" r="10"/></clipPath></defs><g clip-path="url(#c17)"><rect width="20" height="20" fill="#c9b26e"/><path d="M5.600 8.500C5.600 2.600 14.400 2.600 14.400 8.500z" fill="#3a2a20"/><path d="M1.500 21c0-6 4-7 8.500-7s8.500 1 8.500 7z" fill="#f1f1f1"/><rect x="8.600" y="11.500" width="2.800" height="3.200" fill="#dcae8a"/><ellipse cx="10" cy="8.600" rx="3.300" ry="4" fill="#dcae8a"/><path d="M6.500 7.200C6.500 3.400 13.500 3.400 13.500 7.200 12 5.600 8 5.600 6.500 7.200z" fill="#3a2a20"/><path d="M3.500 7c0-1 2-1.600 3-1.800C7 2 13 2 13.500 5.200c1 .2 3 .8 3 1.800s-13 1-13 0z" fill="#5d5548"/></g><circle cx="10" cy="10" r="9.600" fill="none" stroke="#c4c5d4" stroke-width=".9" opacity=".85"/></svg>
<div class="a" style="left:472.8px;top:622.7px;width:27.5px;height:12px;background:#3a1422;border-radius:6px;"></div>
<div class="a" style="left:570px;top:78.2px;width:221.6px;height:192.6px;background:#0e0e23;border:1px solid #1c1c38;border-radius:4px;"></div>
<div class="a" style="left:577.5px;top:111.6px;width:206.5px;height:32px;background:#12122b;border-radius:3px;"></div>
<svg style="left:578.90px;top:119.80px" width="16.2" height="16.2" viewBox="0 0 20 20"><defs><clipPath id="c18"><circle cx="10" cy="10" r="10"/></clipPath></defs><g clip-path="url(#c18)"><rect width="20" height="20" fill="#dac88a"/><path d="M4.6 9.500C4.600 2.500 15.400 2.500 15.400 9.500V18H4.600z" fill="#c9a46c"/><path d="M1.500 21c0-6 4-7 8.500-7s8.500 1 8.500 7z" fill="#e8dccf"/><rect x="8.600" y="11.500" width="2.800" height="3.200" fill="#e6bf9e"/><ellipse cx="10" cy="8.600" rx="3.300" ry="4" fill="#e6bf9e"/><path d="M6.500 7.800C6.500 3.500 13.500 3.500 13.500 7.800 12 6 8 6 6.500 7.800z" fill="#c9a46c"/><path d="M3.500 7c0-1 2-1.600 3-1.800C7 2 13 2 13.500 5.200c1 .2 3 .8 3 1.800s-13 1-13 0z" fill="#ece7df"/></g><circle cx="10" cy="10" r="9.600" fill="none" stroke="#d9dae6" stroke-width=".9" opacity=".85"/></svg>
<svg style="left:777.3px;top:118.4px" width="6" height="7" viewBox="0 0 6 7" ><path d="M1.200 6.400h1.900V1.200M1.300 2.900 3.100 1l1.800 1.900" fill="none" stroke="#19b159" stroke-width="1.100"/></svg>
<svg style="left:578.90px;top:150.90px" width="16.2" height="16.2" viewBox="0 0 20 20"><defs><clipPath id="c19"><circle cx="10" cy="10" r="10"/></clipPath></defs><g clip-path="url(#c19)"><rect width="20" height="20" fill="#99938d"/><path d="M4.6 9.500C4.600 2.500 15.400 2.500 15.400 9.500V18H4.600z" fill="#17120f"/><path d="M1.500 21c0-6 4-7 8.500-7s8.500 1 8.500 7z" fill="#e3101f"/><rect x="8.600" y="11.500" width="2.800" height="3.200" fill="#9b6f55"/><ellipse cx="10" cy="8.600" rx="3.300" ry="4" fill="#9b6f55"/><path d="M6.500 7.800C6.500 3.500 13.500 3.500 13.500 7.800 12 6 8 6 6.500 7.800z" fill="#17120f"/><rect x="6.600" y="7.400" width="6.800" height="1.900" rx=".8" fill="#111"/></g><circle cx="10" cy="10" r="9.600" fill="none" stroke="#d9dae6" stroke-width=".9" opacity=".85"/></svg>
<svg style="left:777.3px;top:149.5px" width="6" height="7" viewBox="0 0 6 7" ><path d="M1.200.800h1.900v5.200M1.300 4.300 3.100 6.200l1.800-1.900" fill="none" stroke="#f16d75" stroke-width="1.100"/></svg>
<svg style="left:578.90px;top:182.10px" width="16.2" height="16.2" viewBox="0 0 20 20"><defs><clipPath id="c20"><circle cx="10" cy="10" r="10"/></clipPath></defs><g clip-path="url(#c20)"><rect width="20" height="20" fill="#d3ccc8"/><path d="M4.6 9.500C4.600 2.500 15.400 2.500 15.400 9.500V18H4.600z" fill="#221a18"/><path d="M1.500 21c0-6 4-7 8.500-7s8.500 1 8.500 7z" fill="#1d1d24"/><rect x="8.600" y="11.500" width="2.800" height="3.200" fill="#e3bea3"/><ellipse cx="10" cy="8.600" rx="3.300" ry="4" fill="#e3bea3"/><path d="M6.500 7.800C6.500 3.500 13.500 3.500 13.500 7.800 12 6 8 6 6.500 7.800z" fill="#221a18"/></g><circle cx="10" cy="10" r="9.600" fill="none" stroke="#d9dae6" stroke-width=".9" opacity=".85"/></svg>
<svg style="left:777.3px;top:180.7px" width="6" height="7" viewBox="0 0 6 7" ><path d="M1.200.800h1.900v5.200M1.300 4.300 3.100 6.200l1.800-1.900" fill="none" stroke="#f16d75" stroke-width="1.100"/></svg>
<svg style="left:578.90px;top:213.10px" width="16.2" height="16.2" viewBox="0 0 20 20"><defs><clipPath id="c21"><circle cx="10" cy="10" r="10"/></clipPath></defs><g clip-path="url(#c21)"><rect width="20" height="20" fill="#ebebef"/><path d="M5.600 8.500C5.600 2.600 14.400 2.600 14.400 8.500z" fill="#15151a"/><path d="M1.500 21c0-6 4-7 8.500-7s8.500 1 8.500 7z" fill="#101014"/><rect x="8.600" y="11.500" width="2.800" height="3.200" fill="#d2aa8c"/><ellipse cx="10" cy="8.600" rx="3.300" ry="4" fill="#d2aa8c"/><path d="M6.500 7.200C6.500 3.400 13.500 3.400 13.500 7.200 12 5.600 8 5.600 6.500 7.200z" fill="#15151a"/></g><circle cx="10" cy="10" r="9.600" fill="none" stroke="#d9dae6" stroke-width=".9" opacity=".85"/></svg>
<svg style="left:777.3px;top:211.7px" width="6" height="7" viewBox="0 0 6 7" ><path d="M1.200 6.400h1.900V1.200M1.300 2.900 3.100 1l1.800 1.900" fill="none" stroke="#19b159" stroke-width="1.100"/></svg>
<svg style="left:578.90px;top:244.10px" width="16.2" height="16.2" viewBox="0 0 20 20"><defs><clipPath id="c22"><circle cx="10" cy="10" r="10"/></clipPath></defs><g clip-path="url(#c22)"><rect width="20" height="20" fill="#dfe3e6"/><path d="M5.600 8.500C5.600 2.600 14.400 2.600 14.400 8.500z" fill="#3a2c24"/><path d="M1.500 21c0-6 4-7 8.500-7s8.500 1 8.500 7z" fill="#1f4a52"/><rect x="8.600" y="11.500" width="2.800" height="3.200" fill="#e0b595"/><ellipse cx="10" cy="8.600" rx="3.300" ry="4" fill="#e0b595"/><path d="M6.500 7.200C6.500 3.400 13.500 3.400 13.500 7.200 12 5.600 8 5.600 6.500 7.200z" fill="#3a2c24"/><rect x="6.600" y="7.400" width="6.800" height="1.900" rx=".8" fill="#222"/></g><circle cx="10" cy="10" r="9.600" fill="none" stroke="#d9dae6" stroke-width=".9" opacity=".85"/></svg>
<svg style="left:777.3px;top:242.7px" width="6" height="7" viewBox="0 0 6 7" ><path d="M1.200.800h1.900v5.200M1.300 4.300 3.100 6.200l1.800-1.900" fill="none" stroke="#f16d75" stroke-width="1.100"/></svg>
<div class="a" style="left:570.5px;top:281.8px;width:221px;height:65px;background:#0e0e23;border:1px solid #1c1c38;border-radius:4px;"></div>
<svg style="left:0;top:0" width="800" height="636" viewBox="0 0 800 636">
<circle cx="758.800" cy="285.700" r=".9" fill="#8f90a8"/><circle cx="782.100" cy="292" r="1.100" fill="#a9d4f5"/><circle cx="732.900" cy="314.900" r="1.100" fill="#f3cf5b"/><circle cx="745.100" cy="296" r=".8" fill="#6f7090"/><circle cx="786.800" cy="319" r=".8" fill="#8f8a70"/><circle cx="780" cy="333.500" r="1.100" fill="#f08a7c"/><circle cx="739" cy="334.700" r=".8" fill="#6f7090"/>
<path d="M758.500 326v6M760.800 325.500v8.500M763.300 325.500v7M765.700 326v9M768.200 328v5" stroke="#34335f" stroke-width="1.100"/>
<path d="M761.900 290.600l5.600 8H756.300z" fill="#f25c6e"/>
<rect x="755.800" y="298.600" width="12.200" height="22.900" fill="#6a62e2"/>
<rect x="755.800" y="298.600" width="12.200" height="1.300" fill="#5148c0"/>
<circle cx="762" cy="304.600" r="2.400" fill="#a5e6e6" stroke="#3d378f" stroke-width=".7"/>
<circle cx="762" cy="304.600" r="1" fill="#e6fbfb"/>
<rect x="759.800" y="308.800" width="4.400" height="1.100" fill="#3d378f"/>
<path d="M755.800 308l-4.400 2.300v10.400h4.400z" fill="#f25c6e"/>
<path d="M768 308l4.400 2.300v10.400H768z" fill="#f25c6e"/>
<rect x="748.500" y="309.300" width="2.800" height="11.400" fill="#6a62e2"/>
<rect x="772.600" y="309.300" width="2.800" height="11.400" fill="#6a62e2"/>
<circle cx="749.900" cy="308.700" r="1.400" fill="#eaf6f4"/><circle cx="774" cy="308.600" r="1.400" fill="#eaf6f4"/>
<rect x="760" y="317.300" width="4" height="4.200" fill="#f7a23b"/>
<rect x="757" y="321.700" width="9.800" height="1.700" fill="#f0714d"/>
</svg>
<div class="a" style="left:570.5px;top:357.2px;width:221px;height:165.2px;background:#0e0e23;border:1px solid #1c1c38;border-radius:4px;"></div>
<div class="a" style="left:581.6px;top:391.8px;width:198.5px;height:54.2px;background:#121229;border-radius:3px;"></div>
<svg style="left:588.50px;top:400.50px" width="8.6" height="8.6" viewBox="0 0 20 20"><defs><clipPath id="c23"><circle cx="10" cy="10" r="10"/></clipPath></defs><g clip-path="url(#c23)"><rect width="20" height="20" fill="#d9d0c8"/><path d="M4.6 9.500C4.600 2.500 15.400 2.500 15.400 9.500V18H4.600z" fill="#d8b98a"/><path d="M1.500 21c0-6 4-7 8.500-7s8.500 1 8.500 7z" fill="#e8dcd2"/><rect x="8.600" y="11.500" width="2.800" height="3.200" fill="#e9c3a4"/><ellipse cx="10" cy="8.600" rx="3.300" ry="4" fill="#e9c3a4"/><path d="M6.500 7.800C6.500 3.500 13.500 3.500 13.500 7.800 12 6 8 6 6.500 7.800z" fill="#d8b98a"/><rect x="6.600" y="7.400" width="6.800" height="1.900" rx=".8" fill="#3fc1c0"/></g><circle cx="10" cy="10" r="9.600" fill="none" stroke="#8d8fa8" stroke-width=".9" opacity=".85"/></svg>
<svg style="left:594.60px;top:400.50px" width="8.6" height="8.6" viewBox="0 0 20 20"><defs><clipPath id="c24"><circle cx="10" cy="10" r="10"/></clipPath></defs><g clip-path="url(#c24)"><rect width="20" height="20" fill="#24343b"/><path d="M5.600 8.500C5.600 2.600 14.400 2.600 14.400 8.500z" fill="#15181c"/><path d="M1.500 21c0-6 4-7 8.500-7s8.500 1 8.500 7z" fill="#121518"/><rect x="8.600" y="11.500" width="2.800" height="3.200" fill="#8a6f60"/><ellipse cx="10" cy="8.600" rx="3.300" ry="4" fill="#8a6f60"/><path d="M6.500 7.200C6.500 3.400 13.500 3.400 13.500 7.200 12 5.600 8 5.600 6.500 7.200z" fill="#15181c"/></g><circle cx="10" cy="10" r="9.600" fill="none" stroke="#8d8fa8" stroke-width=".9" opacity=".85"/></svg>
<svg style="left:600.70px;top:400.50px" width="8.6" height="8.6" viewBox="0 0 20 20"><defs><clipPath id="c25"><circle cx="10" cy="10" r="10"/></clipPath></defs><g clip-path="url(#c25)"><rect width="20" height="20" fill="#5b97a3"/><path d="M4.6 9.500C4.600 2.500 15.400 2.500 15.400 9.500V18H4.600z" fill="#e2c58e"/><path d="M1.500 21c0-6 4-7 8.500-7s8.500 1 8.500 7z" fill="#2a6f7a"/><rect x="8.600" y="11.500" width="2.800" height="3.200" fill="#ecc9a8"/><ellipse cx="10" cy="8.600" rx="3.300" ry="4" fill="#ecc9a8"/><path d="M6.500 7.800C6.500 3.500 13.500 3.500 13.500 7.800 12 6 8 6 6.500 7.800z" fill="#e2c58e"/></g><circle cx="10" cy="10" r="9.600" fill="none" stroke="#8d8fa8" stroke-width=".9" opacity=".85"/></svg>
<svg style="left:606.80px;top:400.50px" width="8.6" height="8.6" viewBox="0 0 20 20"><defs><clipPath id="c26"><circle cx="10" cy="10" r="10"/></clipPath></defs><g clip-path="url(#c26)"><rect width="20" height="20" fill="#e1e5ea"/><path d="M5.600 8.500C5.600 2.600 14.400 2.600 14.400 8.500z" fill="#1d1d22"/><path d="M1.500 21c0-6 4-7 8.500-7s8.500 1 8.500 7z" fill="#23262c"/><rect x="8.600" y="11.500" width="2.800" height="3.200" fill="#d9b294"/><ellipse cx="10" cy="8.600" rx="3.300" ry="4" fill="#d9b294"/><path d="M6.500 7.200C6.500 3.400 13.500 3.400 13.500 7.200 12 5.600 8 5.600 6.500 7.200z" fill="#1d1d22"/></g><circle cx="10" cy="10" r="9.600" fill="none" stroke="#8d8fa8" stroke-width=".9" opacity=".85"/></svg>
<div class="a" style="left:761.6px;top:404.9px;width:6.4px;height:0.9px;background:#4f48a8;"></div>
<svg style="left:754px;top:417.500px" width="19" height="19" viewBox="0 0 19 19"><circle cx="9.500" cy="9.500" r="7.400" fill="none" stroke="#2a2856" stroke-width="2.200"/><path d="M9.500 2.100a7.400 7.400 0 1 1-6.300 3.500" fill="none" stroke="#6a5fe0" stroke-width="2.200"/></svg>
<div class="a" style="left:581.6px;top:453.8px;width:198.5px;height:56.5px;background:#121229;border-radius:3px;"></div>
<svg style="left:588.10px;top:460.70px" width="8.6" height="8.6" viewBox="0 0 20 20"><defs><clipPath id="c27"><circle cx="10" cy="10" r="10"/></clipPath></defs><g clip-path="url(#c27)"><rect width="20" height="20" fill="#d9cd9a"/><path d="M4.6 9.500C4.600 2.500 15.400 2.500 15.400 9.500V18H4.600z" fill="#c9a46c"/><path d="M1.500 21c0-6 4-7 8.500-7s8.500 1 8.500 7z" fill="#e8dccf"/><rect x="8.600" y="11.500" width="2.800" height="3.200" fill="#e6bf9e"/><ellipse cx="10" cy="8.600" rx="3.300" ry="4" fill="#e6bf9e"/><path d="M6.500 7.800C6.500 3.500 13.500 3.500 13.500 7.800 12 6 8 6 6.500 7.800z" fill="#c9a46c"/><path d="M3.500 7c0-1 2-1.600 3-1.800C7 2 13 2 13.500 5.200c1 .2 3 .8 3 1.800s-13 1-13 0z" fill="#ece7df"/></g><circle cx="10" cy="10" r="9.600" fill="none" stroke="#8d8fa8" stroke-width=".9" opacity=".85"/></svg>
<svg style="left:595.65px;top:460.70px" width="8.6" height="8.6" viewBox="0 0 20 20"><defs><clipPath id="c28"><circle cx="10" cy="10" r="10"/></clipPath></defs><g clip-path="url(#c28)"><rect width="20" height="20" fill="#8f8984"/><path d="M4.6 9.500C4.600 2.500 15.400 2.500 15.400 9.500V18H4.600z" fill="#17120f"/><path d="M1.500 21c0-6 4-7 8.500-7s8.500 1 8.500 7z" fill="#e3101f"/><rect x="8.600" y="11.500" width="2.800" height="3.200" fill="#9b6f55"/><ellipse cx="10" cy="8.600" rx="3.300" ry="4" fill="#9b6f55"/><path d="M6.500 7.800C6.500 3.500 13.500 3.500 13.500 7.800 12 6 8 6 6.500 7.800z" fill="#17120f"/></g><circle cx="10" cy="10" r="9.600" fill="none" stroke="#8d8fa8" stroke-width=".9" opacity=".85"/></svg>
<svg style="left:603.20px;top:460.70px" width="8.6" height="8.6" viewBox="0 0 20 20"><defs><clipPath id="c29"><circle cx="10" cy="10" r="10"/></clipPath></defs><g clip-path="url(#c29)"><rect width="20" height="20" fill="#d3ccc8"/><path d="M4.6 9.500C4.600 2.500 15.400 2.500 15.400 9.500V18H4.600z" fill="#221a18"/><path d="M1.500 21c0-6 4-7 8.500-7s8.500 1 8.500 7z" fill="#1d1d24"/><rect x="8.600" y="11.500" width="2.800" height="3.200" fill="#e3bea3"/><ellipse cx="10" cy="8.600" rx="3.300" ry="4" fill="#e3bea3"/><path d="M6.500 7.800C6.500 3.500 13.500 3.500 13.500 7.800 12 6 8 6 6.500 7.800z" fill="#221a18"/></g><circle cx="10" cy="10" r="9.600" fill="none" stroke="#8d8fa8" stroke-width=".9" opacity=".85"/></svg>
<svg style="left:610.75px;top:460.70px" width="8.6" height="8.6" viewBox="0 0 20 20"><defs><clipPath id="c30"><circle cx="10" cy="10" r="10"/></clipPath></defs><g clip-path="url(#c30)"><rect width="20" height="20" fill="#e9e9ee"/><path d="M5.600 8.500C5.600 2.600 14.400 2.600 14.400 8.500z" fill="#15151a"/><path d="M1.500 21c0-6 4-7 8.500-7s8.500 1 8.500 7z" fill="#101014"/><rect x="8.600" y="11.500" width="2.800" height="3.200" fill="#d2aa8c"/><ellipse cx="10" cy="8.600" rx="3.300" ry="4" fill="#d2aa8c"/><path d="M6.500 7.200C6.500 3.400 13.500 3.400 13.500 7.200 12 5.600 8 5.600 6.500 7.200z" fill="#15151a"/></g><circle cx="10" cy="10" r="9.600" fill="none" stroke="#8d8fa8" stroke-width=".9" opacity=".85"/></svg>
<div class="a" style="left:761.6px;top:468.2px;width:6.4px;height:0.9px;background:#4f48a8;"></div>
<svg style="left:754px;top:483.100px" width="19" height="19" viewBox="0 0 19 19"><circle cx="9.500" cy="9.500" r="7.400" fill="none" stroke="#2a2856" stroke-width="2.200"/><path d="M9.500 2.100a7.400 7.400 0 1 1-7.400 7.400" fill="none" stroke="#6a5fe0" stroke-width="2.200"/></svg>
<div class="a" style="left:570.5px;top:532.5px;width:221px;height:112px;background:#0e0e23;border:1px solid #1c1c38;border-radius:4px;"></div>
<svg style="left:770px;top:564.4px" width="7" height="6" viewBox="0 0 7 6" ><path d="M.3.800h6.400M.3 2.900h6.400M.3 5h6.400" stroke="#74768f" stroke-width=".65"/></svg>
<div class="a" style="left:590px;top:576px;width:0.8px;height:43.5px;background:#171732;"></div>
<div class="a" style="left:590px;top:619.2px;width:187px;height:0.8px;background:#171732;"></div>
<div class="a" style="left:601.4px;top:592px;width:4.2px;height:17px;background:#d9d9e2;border-radius:2.1px;"></div>
<div class="a" style="left:601.4px;top:602px;width:4.2px;height:7px;background:#6259ca;border-radius:0 0 2.100px 2.100px;"></div>
<div class="a" style="left:628.05px;top:592.5px;width:4.2px;height:14.1px;background:#d9d9e2;border-radius:2.1px;"></div>
<div class="a" style="left:628.05px;top:602px;width:4.2px;height:4.6px;background:#6259ca;border-radius:0 0 2.100px 2.100px;"></div>
<div class="a" style="left:654.7px;top:589px;width:4.2px;height:21px;background:#d9d9e2;border-radius:2.1px;"></div>
<div class="a" style="left:654.7px;top:602px;width:4.2px;height:8px;background:#6259ca;border-radius:0 0 2.100px 2.100px;"></div>
<div class="a" style="left:681.35px;top:582.6px;width:4.2px;height:31.8px;background:#d9d9e2;border-radius:2.1px;"></div>
<div class="a" style="left:681.35px;top:602px;width:4.2px;height:12.4px;background:#6259ca;border-radius:0 0 2.100px 2.100px;"></div>
<div class="a" style="left:708px;top:589px;width:4.2px;height:17.3px;background:#d9d9e2;border-radius:2.1px;"></div>
<div class="a" style="left:708px;top:602px;width:4.2px;height:4.3px;background:#6259ca;border-radius:0 0 2.100px 2.100px;"></div>
<div class="a" style="left:734.65px;top:589.5px;width:4.2px;height:20.1px;background:#d9d9e2;border-radius:2.1px;"></div>
<div class="a" style="left:734.65px;top:602px;width:4.2px;height:7.6px;background:#6259ca;border-radius:0 0 2.100px 2.100px;"></div>
<div class="a" style="left:761.3px;top:586px;width:4.2px;height:29px;background:#d9d9e2;border-radius:2.1px;"></div>
<div class="a" style="left:761.3px;top:602px;width:4.2px;height:13px;background:#6259ca;border-radius:0 0 2.100px 2.100px;"></div>
<div class="a" style="left:795.5px;top:0px;width:4.5px;height:636px;background:#111129;"></div>
<div class="t" style="top:8.02px;font-size:10.56px;color:#fff;font-weight:700;transform:scaleX(0.913);transform-origin:0 0;left:36.81px;">SPRUHA</div>
<div class="t" style="top:35.40px;font-size:4.2px;color:#5a5c78;font-weight:700;transform:scaleX(1.053);transform-origin:0 0;left:11.79px;letter-spacing:.25px;">DASHBOARD</div>
<div class="t" style="top:116.10px;font-size:4.2px;color:#5a5c78;font-weight:700;transform:scaleX(1.102);transform-origin:0 0;left:11.81px;letter-spacing:.25px;">LANDING</div>
<div class="t" style="top:149.50px;font-size:4.2px;color:#5a5c78;font-weight:700;transform:scaleX(1.090);transform-origin:0 0;left:11.80px;letter-spacing:.25px;">APPLICATIONS</div>
<div class="t" style="top:184.80px;font-size:4.2px;color:#5a5c78;font-weight:700;transform:scaleX(1.089);transform-origin:0 0;left:11.73px;letter-spacing:.25px;">COMPONENTS</div>
<div class="t" style="top:238.20px;font-size:4.2px;color:#5a5c78;font-weight:700;transform:scaleX(1.053);transform-origin:0 0;left:11.67px;letter-spacing:.25px;">OTHER PAGES</div>
<div class="t" style="top:326.20px;font-size:4.2px;color:#5a5c78;font-weight:700;transform:scaleX(1.067);transform-origin:0 0;left:11.80px;letter-spacing:.25px;">FORMS &amp; CHARTS</div>
<div class="t" style="top:57.35px;font-size:5.9px;color:#6e64d6;left:24.80px;">Dashboard</div>
<div class="t" style="top:80.25px;font-size:5.9px;color:#b4b6c9;transform:scaleX(0.964);transform-origin:0 0;left:24.40px;">Crypto Currencies</div>
<div class="t" style="top:97.85px;font-size:5.9px;color:#b4b6c9;transform:scaleX(0.974);transform-origin:0 0;left:24.39px;">ECommerce</div>
<div class="t" style="top:131.65px;font-size:5.9px;color:#b4b6c9;transform:scaleX(0.991);transform-origin:0 0;left:24.38px;">LandingPage</div>
<div class="t" style="top:166.55px;font-size:5.9px;color:#b4b6c9;transform:scaleX(0.984);transform-origin:0 0;left:24.39px;">Apps</div>
<div class="t" style="top:202.25px;font-size:5.9px;color:#b4b6c9;transform:scaleX(1.030);transform-origin:0 0;left:24.36px;">Elements</div>
<div class="t" style="top:219.95px;font-size:5.9px;color:#b4b6c9;transform:scaleX(0.986);transform-origin:0 0;left:24.39px;">AdvancedUI</div>
<div class="t" style="top:253.75px;font-size:5.9px;color:#b4b6c9;transform:scaleX(0.974);transform-origin:0 0;left:24.39px;">Pages</div>
<div class="t" style="top:271.65px;font-size:5.9px;color:#b4b6c9;transform:scaleX(1.108);transform-origin:0 0;left:24.36px;">Utilities</div>
<div class="t" style="top:290.25px;font-size:5.9px;color:#b4b6c9;transform:scaleX(1.025);transform-origin:0 0;left:24.23px;">Submenu</div>
<div class="t" style="top:307.95px;font-size:5.9px;color:#b4b6c9;transform:scaleX(1.019);transform-origin:0 0;left:24.40px;">Authentication</div>
<div class="t" style="top:341.75px;font-size:5.9px;color:#b4b6c9;transform:scaleX(1.006);transform-origin:0 0;left:24.37px;">Forms</div>
<div class="t" style="top:344.10px;font-size:4px;color:#fff;font-weight:700;left:85.59px;">6</div>
<div class="t" style="top:359.75px;font-size:5.9px;color:#b4b6c9;transform:scaleX(1.028);transform-origin:0 0;left:24.41px;">Charts</div>
<div class="t" style="top:360.80px;font-size:4px;color:#fff;font-weight:700;left:85.55px;">3</div>
<div class="t" style="top:11.30px;font-size:5.8px;color:#bfc1d4;transform:scaleX(1.009);transform-origin:0 0;left:131.76px;">Choose one</div>
<div class="t" style="top:11.30px;font-size:5.8px;color:#b3b5ca;transform:scaleX(0.960);transform-origin:0 0;left:185.23px;">Search for results...</div>
<div class="t" style="top:7.05px;font-size:3.5px;color:#fff;font-weight:700;left:664.93px;">5</div>
<div class="t" style="top:7.05px;font-size:3.5px;color:#fff;font-weight:700;left:685.43px;">5</div>
<div class="t" style="top:37.10px;font-size:10.2px;color:#fff;font-weight:700;transform:scaleX(0.922);transform-origin:0 0;left:106.90px;">Welcome To Dashboard</div>
<div class="t" style="top:50.45px;font-size:5.9px;color:#e4e4ee;transform:scaleX(1.038);transform-origin:0 0;left:106.66px;">Home</div>
<div class="t" style="top:49.90px;font-size:5px;color:#5f617c;left:126.77px;">/</div>
<div class="t" style="top:50.45px;font-size:5.9px;color:#e4e4ee;left:130.73px;">Project Dashboard</div>
<div class="t" style="top:43.75px;font-size:5.9px;color:#fff;transform:scaleX(1.039);transform-origin:0 0;left:652.49px;">Import</div>
<div class="t" style="top:43.75px;font-size:5.9px;color:#fff;transform:scaleX(1.070);transform-origin:0 0;left:697.55px;">Filter</div>
<div class="t" style="top:43.75px;font-size:5.9px;color:#fff;transform:scaleX(0.989);transform-origin:0 0;left:738.58px;">Download Report</div>
<div class="t" style="top:79.92px;font-size:8.55px;color:#fff;font-weight:700;transform:scaleX(0.972);transform-origin:0 0;left:228.32px;">Sonia Taylor!</div>
<div class="t" style="top:98.38px;font-size:5.85px;color:#e9e7fb;left:227.94px;">You have two projects to finish, you had completed <b style="color:#f97a3e">57%</b> from your montly level, Keep going to your level</div>
<div class="t" style="top:137.59px;font-size:5.63px;color:#fff;font-weight:700;transform:scaleX(0.919);transform-origin:0 0;left:118.15px;">TOTAL REVENUE</div>
<div class="t" style="top:145.73px;font-size:5.15px;color:#7d7f98;left:117.79px;">Previous month vs this months</div>
<div class="t" style="top:155.88px;font-size:9.45px;color:#fff;font-weight:700;transform:scaleX(0.969);transform-origin:0 0;left:118.09px;">$5,900.00</div>
<div class="t" style="top:172.67px;font-size:4.86px;color:#7d7f98;transform:scaleX(1.006);transform-origin:0 0;left:118.13px;"><b style="color:#19b159">55%</b> Higher</div>
<div class="t" style="top:137.65px;font-size:5.5px;color:#fff;font-weight:700;transform:scaleX(0.920);transform-origin:0 0;left:271.78px;">NEW EMPLOYEES</div>
<div class="t" style="top:145.72px;font-size:5.17px;color:#7d7f98;left:271.55px;">Employees joined this month</div>
<div class="t" style="top:155.80px;font-size:9.6px;color:#fff;font-weight:700;transform:scaleX(0.970);transform-origin:0 0;left:272.27px;">15</div>
<div class="t" style="top:172.67px;font-size:4.85px;color:#7d7f98;transform:scaleX(1.005);transform-origin:0 0;left:271.83px;"><b style="color:#19b159">5%</b> Increased</div>
<div class="t" style="top:137.60px;font-size:5.6px;color:#fff;font-weight:700;transform:scaleX(0.923);transform-origin:0 0;left:426.43px;">TOTAL EXPENSES</div>
<div class="t" style="top:145.74px;font-size:5.13px;color:#7d7f98;left:426.30px;">Previous month vs this months</div>
<div class="t" style="top:155.88px;font-size:9.43px;color:#fff;font-weight:700;transform:scaleX(0.975);transform-origin:0 0;left:426.27px;">$8,500</div>
<div class="t" style="top:172.69px;font-size:4.81px;color:#7d7f98;transform:scaleX(1.014);transform-origin:0 0;left:426.01px;"><b style="color:#f16d75">12%</b> Decrease</div>
<div class="t" style="top:208.72px;font-size:5.95px;color:#fff;font-weight:700;transform:scaleX(0.920);transform-origin:0 0;left:117.69px;">PROJECT BUDGET</div>
<div class="t" style="top:219.27px;font-size:5.06px;color:#7d7f98;left:117.51px;">The Project Budget is a tool used by project managers to estimate the total cost of a project</div>
<div class="t" style="top:237.64px;font-size:5.32px;color:#fff;font-weight:700;transform:scaleX(0.976);transform-origin:0 0;left:300.58px;">Total Budget</div>
<div class="t" style="top:237.68px;font-size:5.24px;color:#fff;font-weight:700;transform:scaleX(0.974);transform-origin:0 0;left:343.74px;">Amount Used</div>
<div class="t" style="top:350.70px;font-size:4.6px;color:#9092aa;font-weight:700;left:131.33px;">0</div>
<div class="t" style="top:331.14px;font-size:4.6px;color:#9092aa;font-weight:700;left:128.46px;">20</div>
<div class="t" style="top:311.58px;font-size:4.6px;color:#9092aa;font-weight:700;left:128.46px;">40</div>
<div class="t" style="top:292.02px;font-size:4.6px;color:#9092aa;font-weight:700;left:128.46px;">60</div>
<div class="t" style="top:273.46px;font-size:4.6px;color:#9092aa;font-weight:700;left:128.46px;">80</div>
<div class="t" style="top:252.90px;font-size:4.6px;color:#9092aa;font-weight:700;left:125.82px;">100</div>
<div class="t" style="top:359.80px;font-size:4.8px;color:#c3c5d6;left:133.00px;">Jan</div>
<div class="t" style="top:359.80px;font-size:4.8px;color:#c3c5d6;left:169.47px;">Feb</div>
<div class="t" style="top:359.80px;font-size:4.8px;color:#c3c5d6;left:205.85px;">Mar</div>
<div class="t" style="top:359.80px;font-size:4.8px;color:#c3c5d6;left:243.11px;">Apr</div>
<div class="t" style="top:359.80px;font-size:4.8px;color:#c3c5d6;left:278.97px;">May</div>
<div class="t" style="top:359.80px;font-size:4.8px;color:#c3c5d6;left:316.50px;">Jun</div>
<div class="t" style="top:359.80px;font-size:4.8px;color:#c3c5d6;left:353.97px;">Jul</div>
<div class="t" style="top:359.80px;font-size:4.8px;color:#c3c5d6;left:389.30px;">Aug</div>
<div class="t" style="top:359.80px;font-size:4.8px;color:#c3c5d6;left:425.70px;">Sep</div>
<div class="t" style="top:359.80px;font-size:4.8px;color:#c3c5d6;left:463.02px;">Oct</div>
<div class="t" style="top:359.80px;font-size:4.8px;color:#c3c5d6;left:498.99px;">Nov</div>
<div class="t" style="top:359.80px;font-size:4.8px;color:#c3c5d6;left:535.69px;">Dec</div>
<div class="t" style="top:408.52px;font-size:6.17px;color:#fff;font-weight:700;transform:scaleX(0.922);transform-origin:0 0;left:117.75px;">TODAY TASKS</div>
<div class="t" style="top:424.46px;font-size:4.88px;color:#7d7f98;left:117.52px;">UX UI &amp; Backend Developement.</div>
<div class="t" style="top:410.49px;font-size:6.02px;color:#b4b6c9;left:259.81px;">Project</div>
<div class="t" style="top:410.56px;font-size:5.88px;color:#b4b6c9;transform:scaleX(1.011);transform-origin:0 0;left:290.51px;">Inprogress</div>
<div class="t" style="top:441.64px;font-size:5.93px;color:#e8e8f0;transform:scaleX(1.006);transform-origin:0 0;left:117.69px;">Project-Budget</div>
<div class="t" style="top:455.74px;font-size:10.92px;color:#6e62e0;transform:scaleX(1.008);transform-origin:0 0;left:117.63px;-webkit-text-stroke:.35px #6e62e0;">$5,240</div>
<div class="t" style="top:472.85px;font-size:5.5px;color:#9799b0;transform:scaleX(0.990);transform-origin:0 0;left:117.68px;">May 28 - June 01 (2018)</div>
<div class="t" style="top:455.64px;font-size:7.93px;color:#e6e6ef;font-weight:700;transform:scaleX(0.964);transform-origin:0 0;left:263.02px;">50%</div>
<div class="t" style="top:405.59px;font-size:6.21px;color:#fff;font-weight:700;transform:scaleX(0.917);transform-origin:0 0;left:348.75px;">TOP INQUIRIES</div>
<div class="t" style="top:416.69px;font-size:5.02px;color:#7d7f98;left:349.22px;">project work involves a group of students investigating .</div>
<div class="t" style="top:435.90px;font-size:5.99px;color:#e8e8f0;left:348.81px;">Brand identity</div>
<div class="t" style="top:437.48px;font-size:5.44px;color:#fff;font-weight:700;transform:scaleX(0.976);transform-origin:0 0;left:514.21px;">24.75%</div>
<div class="t" style="top:456.37px;font-size:5.86px;color:#e8e8f0;transform:scaleX(0.994);transform-origin:0 0;left:348.60px;">UI &amp; UX design</div>
<div class="t" style="top:456.83px;font-size:5.55px;color:#fff;font-weight:700;transform:scaleX(0.985);transform-origin:0 0;left:513.95px;">12.34%</div>
<div class="t" style="top:474.04px;font-size:6.13px;color:#e8e8f0;left:348.82px;">Product design</div>
<div class="t" style="top:474.63px;font-size:5.55px;color:#fff;font-weight:700;transform:scaleX(0.985);transform-origin:0 0;left:513.95px;">12.75%</div>
<div class="t" style="top:514.85px;font-size:6.1px;color:#fff;font-weight:700;transform:scaleX(0.927);transform-origin:0 0;left:117.59px;">TASKS</div>
<div class="t" style="top:523.07px;font-size:5.06px;color:#7d7f98;left:117.52px;">A task is accomplished by a set deadline, and must contribute toward work-related objectives.</div>
<div class="t" style="top:523.14px;font-size:5.71px;color:#a9abc2;transform:scaleX(0.995);transform-origin:0 0;left:430.36px;">Search here...</div>
<div class="t" style="top:522.54px;font-size:5.12px;color:#fff;font-weight:700;transform:scaleX(0.965);transform-origin:0 0;left:522.66px;">Sort by</div>
<div class="t" style="top:544.76px;font-size:5.28px;color:#fff;font-weight:700;transform:scaleX(0.994);transform-origin:0 0;left:125.75px;">TASK</div>
<div class="t" style="top:544.76px;font-size:5.28px;color:#fff;font-weight:700;transform:scaleX(0.984);transform-origin:0 0;left:244.95px;">TEAM</div>
<div class="t" style="top:544.59px;font-size:5.62px;color:#fff;font-weight:700;transform:scaleX(0.920);transform-origin:0 0;left:323.06px;">OPEN TASK</div>
<div class="t" style="top:544.53px;font-size:5.74px;color:#fff;font-weight:700;transform:scaleX(0.904);transform-origin:0 0;left:387.70px;">PRORITY</div>
<div class="t" style="top:544.52px;font-size:5.76px;color:#fff;font-weight:700;transform:scaleX(0.966);transform-origin:0 0;left:472.22px;">STATUS</div>
<div class="t" style="top:560.76px;font-size:5.67px;color:#fff;font-weight:700;transform:scaleX(0.968);transform-origin:0 0;left:141.89px;">Evaluating the design</div>
<div class="t" style="top:562.60px;font-size:5.4px;color:#fff;font-weight:500;left:335.01px;">18</div>
<div class="t" style="top:563.35px;font-size:5.9px;color:#6e62e0;transform:scaleX(1.032);transform-origin:0 0;left:387.67px;">High</div>
<div class="t" style="top:562.92px;font-size:4.37px;color:#6e64dc;font-weight:700;transform:scaleX(1.005);transform-origin:0 0;left:476.80px;">Completed</div>
<div class="t" style="top:583.06px;font-size:5.67px;color:#fff;font-weight:700;transform:scaleX(0.973);transform-origin:0 0;left:141.93px;">Generate ideas for design</div>
<div class="t" style="top:584.90px;font-size:5.4px;color:#fff;font-weight:500;left:334.95px;">34</div>
<div class="t" style="top:583.49px;font-size:6.21px;color:#f10075;left:387.55px;">Normal</div>
<div class="t" style="top:585.01px;font-size:4.78px;color:#ffa43a;font-weight:700;transform:scaleX(0.958);transform-origin:0 0;left:477.41px;">Pending</div>
<div class="t" style="top:604.33px;font-size:5.74px;color:#fff;font-weight:700;transform:scaleX(0.966);transform-origin:0 0;left:141.87px;">Define the problem</div>
<div class="t" style="top:606.20px;font-size:5.4px;color:#fff;font-weight:500;left:335.11px;">25</div>
<div class="t" style="top:604.90px;font-size:6px;color:#fd7e14;transform:scaleX(1.039);transform-origin:0 0;left:387.61px;">Low</div>
<div class="t" style="top:605.52px;font-size:4.37px;color:#6e64dc;font-weight:700;transform:scaleX(1.005);transform-origin:0 0;left:476.80px;">Completed</div>
<div class="t" style="top:625.45px;font-size:5.71px;color:#fff;font-weight:700;transform:scaleX(0.971);transform-origin:0 0;left:141.89px;">Empathize with users</div>
<div class="t" style="top:627.30px;font-size:5.4px;color:#fff;font-weight:500;left:334.95px;">37</div>
<div class="t" style="top:627.05px;font-size:5.9px;color:#6e62e0;transform:scaleX(1.032);transform-origin:0 0;left:387.67px;">High</div>
<div class="t" style="top:627.39px;font-size:4.83px;color:#f4516c;font-weight:700;transform:scaleX(0.941);transform-origin:0 0;left:476.56px;">Rejected</div>
<div class="t" style="top:88.58px;font-size:6.04px;color:#fff;font-weight:700;transform:scaleX(0.925);transform-origin:0 0;left:578.67px;">RECENT TRANSACTIONS</div>
<div class="t" style="top:100.37px;font-size:5.07px;color:#7d7f98;left:578.58px;">Projects where development work is on completion</div>
<div class="t" style="top:120.40px;font-size:5.6px;color:#fff;font-weight:700;left:601.97px;">Flicker</div>
<div class="t" style="top:130.31px;font-size:5.59px;color:#7d7f98;left:602.15px;">App improvement</div>
<div class="t" style="top:119.46px;font-size:6.68px;color:#fff;font-weight:700;transform:scaleX(0.978);transform-origin:0 0;left:751.18px;">$45.234</div>
<div class="t" style="top:128.63px;font-size:6.14px;color:#9092aa;transform:scaleX(0.976);transform-origin:0 0;left:750.90px;">12 Jan 2020</div>
<div class="t" style="top:150.50px;font-size:5.6px;color:#fff;font-weight:700;left:601.97px;">Intoxica</div>
<div class="t" style="top:161.24px;font-size:5.93px;color:#7d7f98;transform:scaleX(0.989);transform-origin:0 0;left:602.36px;">Milestone</div>
<div class="t" style="top:149.55px;font-size:6.7px;color:#fff;font-weight:700;transform:scaleX(0.971);transform-origin:0 0;left:751.67px;">$23.452</div>
<div class="t" style="top:160.75px;font-size:6.11px;color:#9092aa;transform:scaleX(0.986);transform-origin:0 0;left:751.08px;">23 Jan 2020</div>
<div class="t" style="top:181.70px;font-size:5.6px;color:#fff;font-weight:700;left:601.97px;">Digiwatt</div>
<div class="t" style="top:191.62px;font-size:5.57px;color:#7d7f98;left:601.51px;">Sales executive</div>
<div class="t" style="top:181.74px;font-size:6.72px;color:#fff;font-weight:700;transform:scaleX(0.968);transform-origin:0 0;left:751.34px;">$78.001</div>
<div class="t" style="top:191.93px;font-size:6.15px;color:#9092aa;transform:scaleX(0.980);transform-origin:0 0;left:755.05px;">4 Apr 2020</div>
<div class="t" style="top:212.70px;font-size:5.6px;color:#fff;font-weight:700;left:601.97px;">Flicker</div>
<div class="t" style="top:222.39px;font-size:6.02px;color:#7d7f98;transform:scaleX(0.961);transform-origin:0 0;left:602.35px;">Milestone2</div>
<div class="t" style="top:212.78px;font-size:6.65px;color:#fff;font-weight:700;transform:scaleX(0.981);transform-origin:0 0;left:751.41px;">$37.285</div>
<div class="t" style="top:222.93px;font-size:6.15px;color:#9092aa;transform:scaleX(0.980);transform-origin:0 0;left:755.05px;">4 Apr 2020</div>
<div class="t" style="top:243.70px;font-size:5.6px;color:#fff;font-weight:700;left:601.97px;">Flicker</div>
<div class="t" style="top:253.60px;font-size:5.59px;color:#7d7f98;left:602.15px;">App improvement</div>
<div class="t" style="top:243.74px;font-size:6.72px;color:#fff;font-weight:700;transform:scaleX(0.968);transform-origin:0 0;left:751.34px;">$25.341</div>
<div class="t" style="top:253.93px;font-size:6.15px;color:#9092aa;transform:scaleX(0.980);transform-origin:0 0;left:755.05px;">4 Apr 2020</div>
<div class="t" style="top:292.65px;font-size:5.69px;color:#fff;font-weight:700;transform:scaleX(0.921);transform-origin:0 0;left:580.70px;">PROJECT LAUNCH</div>
<div class="t" style="top:302.82px;font-size:5.15px;color:#7d7f98;left:580.62px;">the project is going to launch</div>
<div class="t" style="top:314.94px;font-size:10.12px;color:#6e62e0;font-weight:700;transform:scaleX(0.973);transform-origin:0 0;left:580.35px;">145 days</div>
<div class="t" style="top:328.75px;font-size:5.9px;color:#9a9cb3;transform:scaleX(0.993);transform-origin:0 0;left:580.34px;">12 Monday, Oct 2020</div>
<div class="t" style="top:366.76px;font-size:6.07px;color:#fff;font-weight:700;transform:scaleX(0.921);transform-origin:0 0;left:580.76px;">ON GOING PROJECTS</div>
<div class="t" style="top:377.86px;font-size:5.07px;color:#7d7f98;left:580.58px;">Projects where development work is on completion</div>
<div class="t" style="top:402.04px;font-size:6.12px;color:#e8e8f0;transform:scaleX(0.995);transform-origin:0 0;left:617.66px;">Design team</div>
<div class="t" style="top:421.28px;font-size:4.24px;color:#6259ca;font-weight:700;transform:scaleX(0.973);transform-origin:0 0;left:588.72px;">25 August 2020</div>
<div class="t" style="top:430.45px;font-size:5.69px;color:#fff;font-weight:700;transform:scaleX(0.967);transform-origin:0 0;left:588.69px;">Mobile app design</div>
<div class="t" style="top:471.24px;font-size:6.12px;color:#e8e8f0;transform:scaleX(0.995);transform-origin:0 0;left:588.66px;">Design team</div>
<div class="t" style="top:487.33px;font-size:4.54px;color:#6259ca;font-weight:700;transform:scaleX(0.914);transform-origin:0 0;left:588.40px;">12 JUNE 2020</div>
<div class="t" style="top:496.06px;font-size:5.68px;color:#fff;font-weight:700;transform:scaleX(0.963);transform-origin:0 0;left:588.82px;">Website Redesign</div>
<div class="t" style="top:544.28px;font-size:6.04px;color:#fff;font-weight:700;transform:scaleX(0.916);transform-origin:0 0;left:580.83px;">WEBSITE DESIGN</div>
<div class="t" style="top:544.82px;font-size:5.56px;color:#9a9cb3;transform:scaleX(1.004);transform-origin:0 0;left:754.39px;">Running</div>
<div class="t" style="top:555.13px;font-size:6.54px;color:#9a9cb3;transform:scaleX(0.994);transform-origin:0 0;left:580.48px;">Task completed : 7/10</div>
<div class="t" style="top:626.60px;font-size:4.8px;color:#c3c5d6;left:599.76px;">Jan</div>
<div class="t" style="top:626.60px;font-size:4.8px;color:#c3c5d6;left:625.67px;">Feb</div>
<div class="t" style="top:626.60px;font-size:4.8px;color:#c3c5d6;left:652.58px;">Mar</div>
<div class="t" style="top:626.60px;font-size:4.8px;color:#c3c5d6;left:679.65px;">Apr</div>
<div class="t" style="top:626.60px;font-size:4.8px;color:#c3c5d6;left:705.52px;">May</div>
<div class="t" style="top:626.60px;font-size:4.8px;color:#c3c5d6;left:732.79px;">Jun</div>
<div class="t" style="top:626.60px;font-size:4.8px;color:#c3c5d6;left:760.42px;">Jul</div>
</div></body></html>
